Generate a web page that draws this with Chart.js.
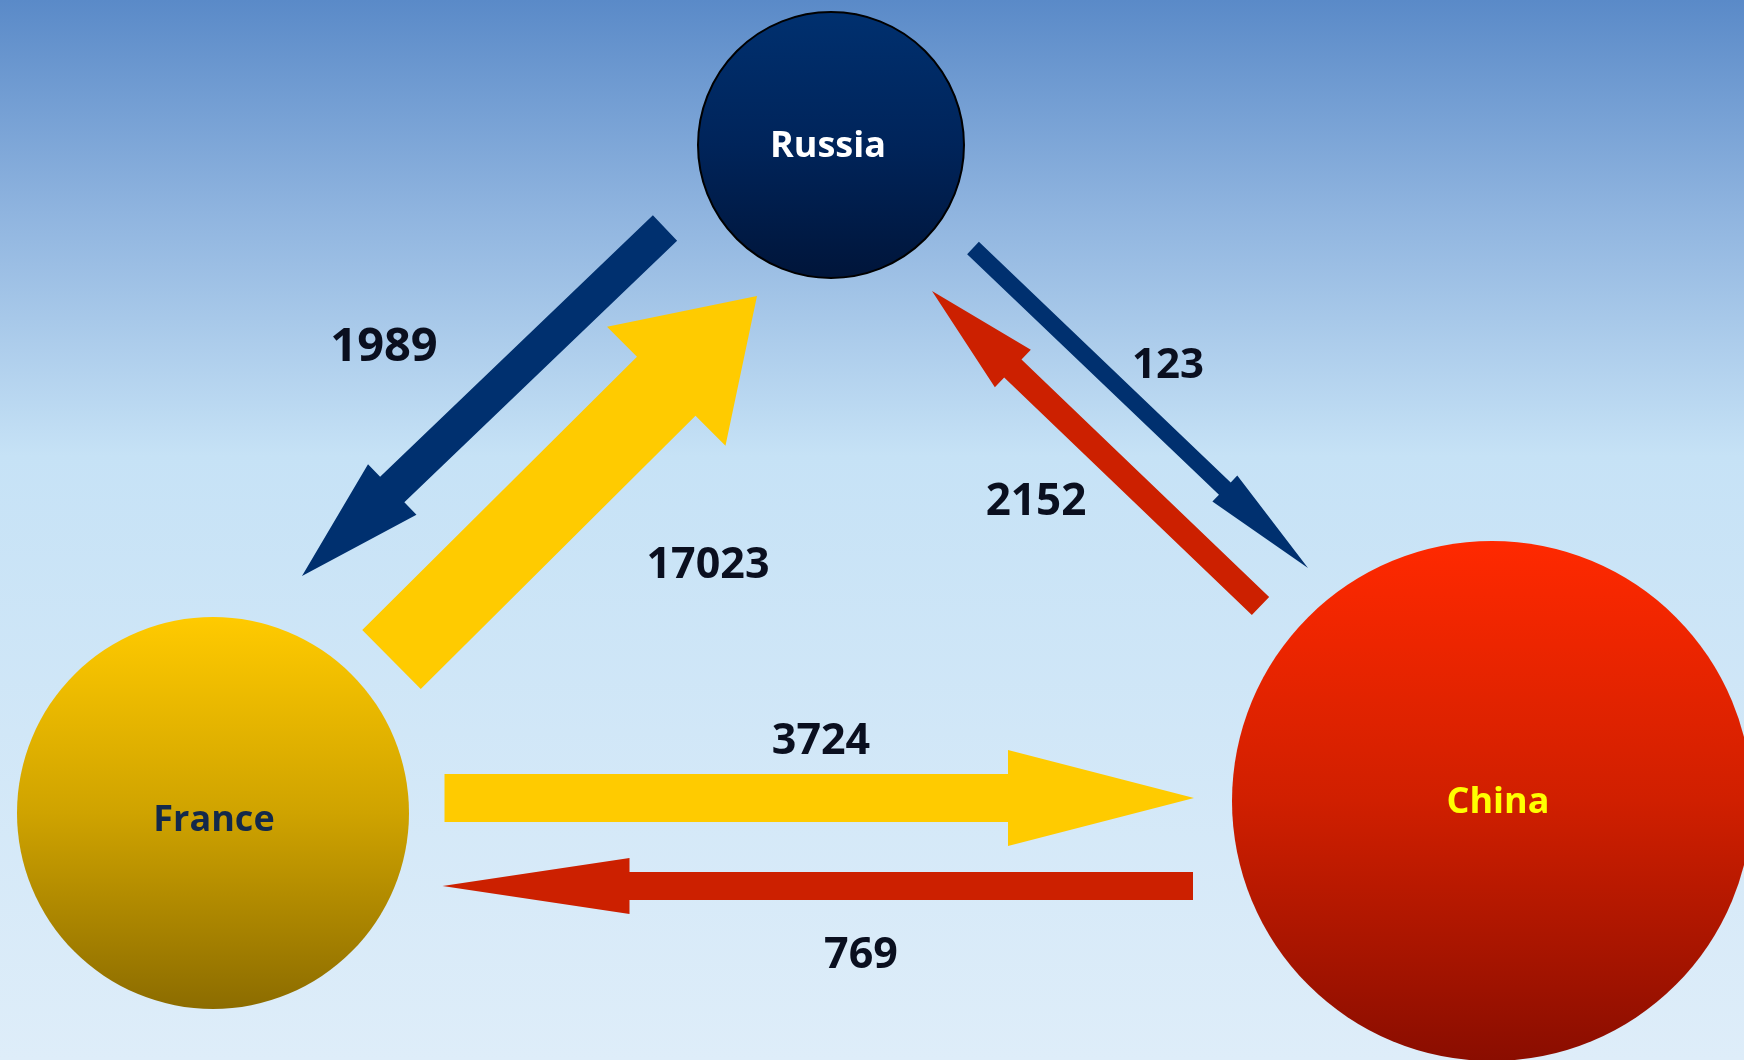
<!DOCTYPE html>
<html>
<head>
<meta charset="utf-8">
<title>Russia – France – China flows</title>
<script src="https://cdn.jsdelivr.net/npm/chart.js@4/dist/chart.umd.min.js"></script>
<style>
  html, body { margin: 0; padding: 0; overflow: hidden; background: #cfe6f8; }
  #wrap { position: relative; width: 1744px; height: 1060px; }
</style>
</head>
<body>
<div id="wrap"><canvas id="flows"></canvas></div>
<script>
// ---- data ----
const nodes = ['Russia', 'France', 'China'];
const flowFrom = ['Russia', 'France', 'Russia', 'China', 'France', 'China'];
const flowTo   = ['France', 'Russia', 'China', 'Russia', 'China', 'France'];
const flowValues = [1989, 17023, 123, 2152, 3724, 769];

// ---- node layout (axis units) ----
const nodeX = [831, 213, 1492];
const nodeY = [145, 813, 801];
const nodeRadius = [133, 196, 260];
const nodeLabelX = [828, 214, 1498];
const nodeLabelY = [144, 818, 800];
const nodeColorTop = ['#00306f', '#ffca00', '#ff2900'];
const nodeColorMid = ['#00245a', '#cfa300', '#d01f00'];
const nodeColorBottom = ['#00153a', '#8c6c00', '#8a0d00'];
const nodeTextColor = ['#ffffff', '#13294b', '#ffff00'];
const nodeBorder = [2, 0, 0];

// ---- arrow layout (axis units) ----
const arrowTailX = [665, 391.5, 973, 1260.5, 444.5, 1193];
const arrowTailY = [228, 659.5, 248, 606, 798, 886];
const arrowTipX  = [302, 757, 1308, 932, 1194, 442.5];
const arrowTipY  = [576, 296, 568, 291, 798, 886];
const shaftWidth = [35, 83, 17, 25, 48, 28];
const headWidth  = [70, 168, 36, 52, 96, 56];
const headLength = [125, 128, 115, 112, 186, 187];
const valueLabelX = [384, 708, 1168, 1036, 821, 861];
const valueLabelY = [344, 563, 363, 499, 739, 953];
const valueLabelSize = [47, 43, 42, 44, 43, 43];
const flowColor = { Russia: '#00306f', France: '#ffcb00', China: '#cc2000' };

// polygon outline of one arrow, in axis units
function arrowOutline(i) {
  const tx = arrowTailX[i], ty = arrowTailY[i];
  const hx = arrowTipX[i], hy = arrowTipY[i];
  const len = Math.hypot(hx - tx, hy - ty);
  const ux = (hx - tx) / len, uy = (hy - ty) / len;
  const px = -uy, py = ux;
  const w = shaftWidth[i] / 2, hw = headWidth[i] / 2;
  const bx = hx - ux * headLength[i], by = hy - uy * headLength[i];
  return [
    { x: tx + px * w,  y: ty + py * w },
    { x: bx + px * w,  y: by + py * w },
    { x: bx + px * hw, y: by + py * hw },
    { x: hx,           y: hy },
    { x: bx - px * hw, y: by - py * hw },
    { x: bx - px * w,  y: by - py * w },
    { x: tx - px * w,  y: ty - py * w },
    { x: tx + px * w,  y: ty + py * w }
  ];
}

const arrowDatasets = flowValues.map((v, i) => ({
  type: 'line',
  label: flowFrom[i] + ' → ' + flowTo[i],
  data: arrowOutline(i),
  backgroundColor: flowColor[flowFrom[i]],
  borderColor: flowColor[flowFrom[i]],
  borderWidth: 0,
  pointRadius: 0,
  pointHoverRadius: 0,
  tension: 0,
  fill: 'shape',
  clip: false,
  order: 1
}));

const nodeDataset = {
  type: 'bubble',
  label: 'nodes',
  data: nodes.map((n, i) => ({ x: nodeX[i], y: nodeY[i], r: nodeRadius[i] })),
  backgroundColor: (ctx) => {
    const i = ctx.dataIndex;
    const chart = ctx.chart;
    if (ctx.type !== 'data' || !chart.chartArea) return nodeColorMid[i];
    const yc = chart.scales.y.getPixelForValue(nodeY[i]);
    const r = nodeRadius[i];
    const g = chart.ctx.createLinearGradient(0, yc - r, 0, yc + r);
    g.addColorStop(0, nodeColorTop[i]);
    g.addColorStop(0.5, nodeColorMid[i]);
    g.addColorStop(1, nodeColorBottom[i]);
    return g;
  },
  borderColor: '#000000',
  borderWidth: (ctx) => nodeBorder[ctx.dataIndex] || 0,
  hoverBorderWidth: (ctx) => nodeBorder[ctx.dataIndex] || 0,
  hoverRadius: 0,
  clip: false,
  order: 2
};

// sky gradient behind everything
const skyPlugin = {
  id: 'sky',
  beforeDraw(chart) {
    const { ctx, width, height } = chart;
    const g = ctx.createLinearGradient(0, 0, 0, height);
    g.addColorStop(0, '#5a8ac8');
    g.addColorStop(0.2, '#8fb4df');
    g.addColorStop(0.43, '#c6e2f6');
    g.addColorStop(1, '#deedf9');
    ctx.save();
    ctx.fillStyle = g;
    ctx.fillRect(0, 0, width, height);
    ctx.restore();
  }
};

// node names and flow values
const labelPlugin = {
  id: 'flowLabels',
  afterDatasetsDraw(chart) {
    const { ctx } = chart;
    const xs = chart.scales.x, ys = chart.scales.y;
    ctx.save();
    ctx.textAlign = 'center';
    ctx.textBaseline = 'alphabetic';
    const capRatio = 0.357;
    nodes.forEach((name, i) => {
      const size = 36;
      ctx.font = 'bold ' + size + 'px "Open Sans", "Noto Sans", sans-serif';
      ctx.fillStyle = nodeTextColor[i];
      ctx.fillText(name, xs.getPixelForValue(nodeLabelX[i]),
        ys.getPixelForValue(nodeLabelY[i]) + size * capRatio);
    });
    flowValues.forEach((v, i) => {
      const size = valueLabelSize[i];
      ctx.font = 'bold ' + size + 'px "Open Sans", "Noto Sans", sans-serif';
      ctx.fillStyle = '#0a0f1f';
      ctx.fillText(String(v), xs.getPixelForValue(valueLabelX[i]),
        ys.getPixelForValue(valueLabelY[i]) + size * capRatio);
    });
    ctx.restore();
  }
};

new Chart(document.getElementById('flows'), {
  type: 'bubble',
  data: { datasets: [nodeDataset, ...arrowDatasets] },
  options: {
    responsive: true,
    maintainAspectRatio: false,
    animation: false,
    events: [],
    layout: { padding: 0, autoPadding: false },
    scales: {
      x: { type: 'linear', min: 0, max: 1744, display: false },
      y: { type: 'linear', min: 0, max: 1060, reverse: true, display: false }
    },
    plugins: {
      legend: { display: false },
      tooltip: { enabled: false }
    }
  },
  plugins: [skyPlugin, labelPlugin]
});
</script>
</body>
</html>
